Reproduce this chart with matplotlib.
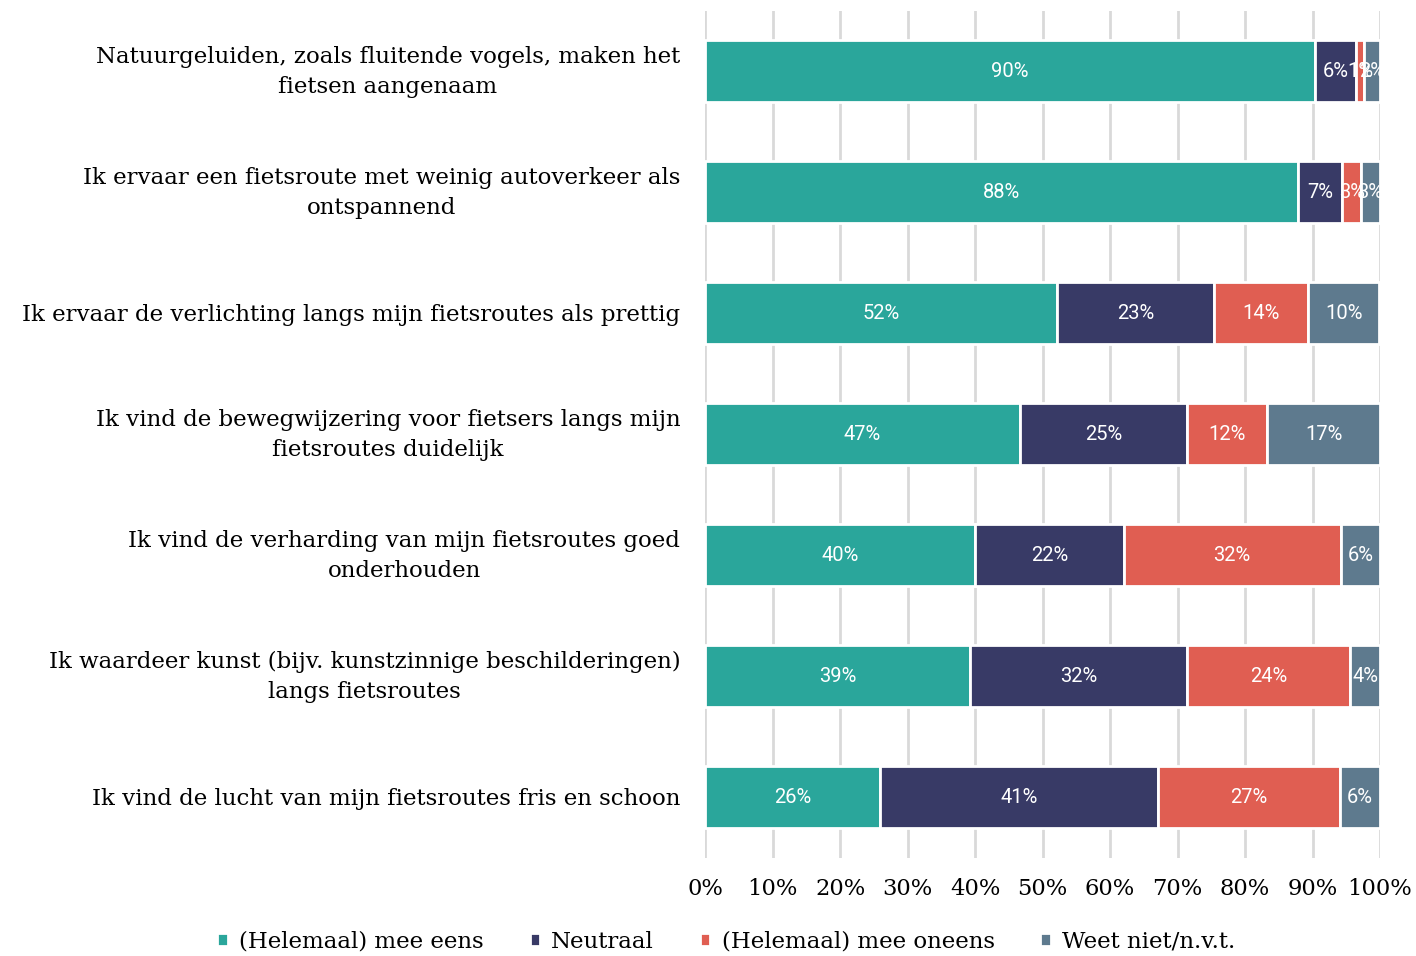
import matplotlib.pyplot as plt
import numpy as np

# statements, top to bottom
statements = [
    "Natuurgeluiden, zoals fluitende vogels, maken het\nfietsen aangenaam",
    "Ik ervaar een fietsroute met weinig autoverkeer als\nontspannend",
    "Ik ervaar de verlichting langs mijn fietsroutes als prettig",
    "Ik vind de bewegwijzering voor fietsers langs mijn\nfietsroutes duidelijk",
    "Ik vind de verharding van mijn fietsroutes goed\nonderhouden",
    "Ik waardeer kunst (bijv. kunstzinnige beschilderingen)\nlangs fietsroutes",
    "Ik vind de lucht van mijn fietsroutes fris en schoon",
]

series = ["(Helemaal) mee eens", "Neutraal", "(Helemaal) mee oneens", "Weet niet/n.v.t."]

eens = [90.3, 87.8, 52.1, 46.6, 40.0, 39.2, 25.9]
neutraal = [6.2, 6.6, 23.3, 24.8, 22.0, 32.2, 41.2]
oneens = [1.1, 2.8, 14.0, 11.9, 32.2, 24.2, 27.0]
weet_niet = [2.4, 2.8, 10.4, 16.7, 5.8, 4.4, 5.9]

colors = ["#2aa69b", "#383a66", "#e05e52", "#5e7a8e"]
serif = "DejaVu Serif"

fig = plt.figure(figsize=(14.16, 9.56), dpi=100)
ax = fig.add_axes([0.498, 0.103, 0.4766, 0.886])

y = np.arange(len(statements))
left = np.zeros(len(statements))
for name, vals, col in zip(series, [eens, neutraal, oneens, weet_niet], colors):
    vals = np.array(vals)
    ax.barh(y, vals, left=left, height=0.52, color=col, label=name,
            edgecolor="white", linewidth=2, zorder=3)
    for yi, l, v in zip(y, left, vals):
        ax.text(l + v / 2, yi, f"{round(v):.0f}%", ha="center", va="center",
                color="white", fontsize=14.5, family="Roboto", zorder=4)
    left += vals

ax.set_ylim(len(statements) - 0.5, -0.5)
ax.set_xlim(0, 100)
ax.set_yticks([])
# category labels as annotations, right-aligned next to the bars
for yi, s in zip(y, statements):
    dy = -0.5 if "\n" in s else -1.2
    ax.annotate(s, xy=(0, yi), xycoords=ax.get_yaxis_transform(),
                xytext=(-18, dy), textcoords="offset points",
                ha="right", va="center", multialignment="center",
                linespacing=1.45, family=serif, fontsize=16.5)
ax.set_xticks(np.arange(0, 101, 10))
ax.set_xticklabels([f"{v}%" for v in range(0, 101, 10)], family=serif,
                   fontsize=16.3)
ax.tick_params(axis="both", length=0)
ax.tick_params(axis="x", pad=15)
ax.grid(axis="x", color="#d9d9d9", linewidth=2, zorder=0)
for s in ax.spines.values():
    s.set_visible(False)

ax.legend(loc="center", bbox_to_anchor=(0.513, 0.015), bbox_transform=fig.transFigure,
          ncol=4, frameon=False, handlelength=0.45, handleheight=0.45, handletextpad=0.5,
          columnspacing=2.0, prop={"family": serif, "size": 16.5})

fig.savefig("out.png", dpi=100)
